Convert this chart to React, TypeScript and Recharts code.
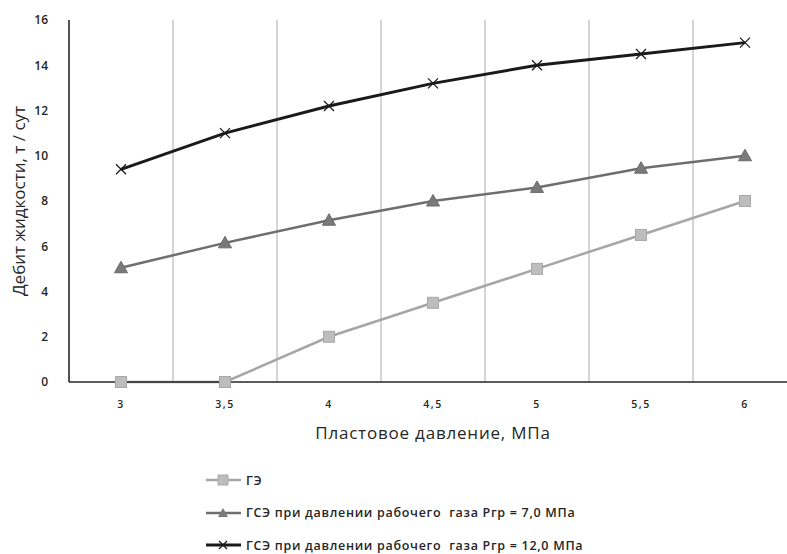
import React from 'react';
import { LineChart, Line, XAxis, YAxis, ReferenceLine, Legend } from 'recharts';

const pressures = [3, 3.5, 4, 4.5, 5, 5.5, 6];
const geValues = [0, 0, 2, 3.5, 5, 6.5, 8];
const gse7Values = [5.05, 6.15, 7.15, 8.0, 8.6, 9.45, 10.0];
const gse12Values = [9.4, 11.0, 12.2, 13.2, 14.0, 14.5, 15.0];
const gridX = [3.25, 3.75, 4.25, 4.75, 5.25, 5.75];
const yTicks = [0, 2, 4, 6, 8, 10, 12, 14, 16];
const seriesNames = [
  'ГЭ',
  'ГСЭ при давлении рабочего  газа Ргр = 7,0 МПа',
  'ГСЭ при давлении рабочего  газа Ргр = 12,0 МПа',
];

const data = pressures.map((p, i) => ({
  p,
  ge: geValues[i],
  gse7: gse7Values[i],
  gse12: gse12Values[i],
}));

const FONT = '"Open Sans", sans-serif';

const SquareDot = (props: any) => {
  const { cx, cy, index } = props;
  if (cx == null || cy == null) return <g key={index} />;
  return <rect key={index} x={cx - 5.5} y={cy - 5.5} width={11} height={11} fill="#bdbdbd" stroke="#a8a8a8" strokeWidth={1} />;
};
const TriDot = (props: any) => {
  const { cx, cy, index } = props;
  if (cx == null || cy == null) return <g key={index} />;
  return <polygon key={index} points={`${cx},${cy - 6.5} ${cx + 6.5},${cy + 5} ${cx - 6.5},${cy + 5}`} fill="#7a7a7a" stroke="#6a6a6a" strokeWidth={1} />;
};
const XDot = (props: any) => {
  const { cx, cy, index } = props;
  if (cx == null || cy == null) return <g key={index} />;
  const r = 5;
  return (
    <g key={index} stroke="#1a1a1a" strokeWidth={1.3}>
      <line x1={cx - r} y1={cy - r} x2={cx + r} y2={cy + r} />
      <line x1={cx - r} y1={cy + r} x2={cx + r} y2={cy - r} />
    </g>
  );
};

const legendStyles = [
  { stroke: '#a6a6a6', width: 2.5, marker: 'square' },
  { stroke: '#6e6e6e', width: 2.5, marker: 'tri' },
  { stroke: '#1a1a1a', width: 3, marker: 'x' },
];

const renderLegend = () => (
  <div style={{ fontFamily: FONT, fontSize: 12.5, color: '#262626' }}>
    {seriesNames.map((name, i) => {
      const s = legendStyles[i];
      const cx = 18;
      const cy = 6;
      return (
        <div key={name} style={{ display: 'flex', alignItems: 'center', height: 32.5 }}>
          <svg width={38} height={12} style={{ marginRight: 3 }}>
            <line x1={1} y1={cy} x2={36} y2={cy} stroke={s.stroke} strokeWidth={s.width} />
            {s.marker === 'square' && <rect x={cx - 5} y={cy - 5} width={10} height={10} fill="#bdbdbd" stroke="#a8a8a8" />}
            {s.marker === 'tri' && <polygon points={`${cx},${cy - 5} ${cx + 5},${cy + 4} ${cx - 5},${cy + 4}`} fill="#7a7a7a" />}
            {s.marker === 'x' && (
              <g stroke="#1a1a1a" strokeWidth={1.2}>
                <line x1={cx - 4} y1={cy - 4} x2={cx + 4} y2={cy + 4} />
                <line x1={cx - 4} y1={cy + 4} x2={cx + 4} y2={cy - 4} />
              </g>
            )}
          </svg>
          <span style={{ whiteSpace: 'pre', fontWeight: 600, letterSpacing: 0.7 }}>{name}</span>
        </div>
      );
    })}
  </div>
);

export default function App() {
  return (
    <div style={{ position: 'fixed', left: 0, top: 0, width: 787, height: 554, overflow: 'hidden', background: '#fff' }}>
      <LineChart width={800} height={554} data={data} margin={{ top: 20, right: 3, left: 0, bottom: 14.5 }}>
        {gridX.map((x) => (
          <ReferenceLine key={x} x={x} stroke="#bfbfbf" strokeWidth={1.3} />
        ))}
        <XAxis
          dataKey="p"
          type="number"
          domain={[2.75, 6.25]}
          ticks={pressures}
          tickFormatter={(v: number) => String(v).replace('.', ',')}
          tickLine={false}
          axisLine={{ stroke: '#262626', strokeWidth: 1.6 }}
          tick={{ fontFamily: FONT, fontSize: 10.5, fontWeight: 600, fill: '#262626', letterSpacing: 1.5 }}
          tickMargin={13}
          height={60}
          label={{ value: 'Пластовое давление, МПа', position: 'insideBottom', offset: 3, style: { fontFamily: FONT, fontSize: 17, fill: '#262626', letterSpacing: 0.8 } }}
        />
        <YAxis
          domain={[0, 16]}
          ticks={yTicks}
          tickLine={false}
          axisLine={{ stroke: '#262626', strokeWidth: 1.6 }}
          tick={{ fontFamily: FONT, fontSize: 12, fontWeight: 600, fill: '#262626' }}
          tickMargin={15}
          width={69}
          label={{ value: 'Дебит жидкости, т / сут', angle: -90, position: 'insideLeft', offset: 19, style: { fontFamily: FONT, fontSize: 17, fill: '#262626', textAnchor: 'middle' } }}
        />
        <Line dataKey="ge" stroke="#a6a6a6" strokeWidth={2.5} dot={SquareDot} isAnimationActive={false} />
        <Line dataKey="gse7" stroke="#6e6e6e" strokeWidth={2.5} dot={TriDot} isAnimationActive={false} />
        <Line dataKey="gse12" stroke="#1a1a1a" strokeWidth={3} dot={XDot} isAnimationActive={false} />
        <Legend content={renderLegend} wrapperStyle={{ left: 205, top: 464, width: 480 }} />
      </LineChart>
    </div>
  );
}
